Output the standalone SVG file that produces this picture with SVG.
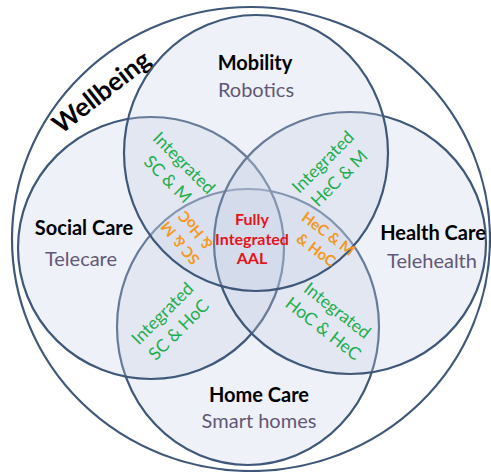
<svg xmlns="http://www.w3.org/2000/svg" width="491" height="472" viewBox="0 0 491 472">
<style>
.ring{fill:#c6d2e4;fill-opacity:0.3;stroke:#3f5879;stroke-width:2.2}
.outer{fill:#ffffff;stroke:#3f5879;stroke-width:2.2}
.t{font-family:Lato,"Liberation Sans",sans-serif;text-anchor:middle}
.main{font-weight:bold;font-size:20px;fill:#000}
.sub{font-size:20px;fill:#625777}
.green{font-size:17.5px;fill:#22ad4e}
.orange{font-size:15px;font-weight:bold;fill:#f4981f}
.red{font-size:16px;font-weight:bold;fill:#e3141c}
</style>
<rect width="491" height="472" fill="#ffffff"/>
<g id="wellbeing">
<ellipse class="outer" cx="251" cy="239" rx="239" ry="232"/>
<text class="t main" font-size="26" style="font-size:26px" transform="translate(107,99) rotate(-38)">Wellbeing</text>
</g>
<g id="home-care">
<ellipse class="ring" cx="248" cy="327" rx="131" ry="138"/>
<text class="t main" x="259" y="402">Home Care</text>
<text class="t sub" x="259" y="428">Smart homes</text>
</g>
<g id="social-care">
<ellipse class="ring" cx="151" cy="248" rx="133" ry="131"/>
<text class="t main" x="84" y="235">Social Care</text>
<text class="t sub" x="81" y="266">Telecare</text>
</g>
<g id="health-care">
<ellipse class="ring" cx="350" cy="243" rx="136" ry="131"/>
<text class="t main" x="433" y="240">Health Care</text>
<text class="t sub" x="432" y="268">Telehealth</text>
</g>
<g id="mobility">
<ellipse class="ring" cx="256" cy="153" rx="132" ry="138"/>
<text class="t main" x="255" y="70">Mobility</text>
<text class="t sub" x="256" y="97">Robotics</text>
</g>
<g id="connectors"></g>
<g id="sc-m">
<g transform="translate(175.5,171.5) rotate(45)">
<text class="t green" x="0" y="-6">Integrated</text>
<text class="t green" x="0" y="17">SC &amp; M</text>
</g>
</g>
<g id="hec-m">
<g transform="translate(331.5,170.5) rotate(-45)">
<text class="t green" x="0" y="-6">Integrated</text>
<text class="t green" x="0" y="17">HeC &amp; M</text>
</g>
</g>
<g id="sc-hoc">
<g transform="translate(171,322) rotate(-45)">
<text class="t green" x="0" y="-6">Integrated</text>
<text class="t green" x="0" y="17">SC &amp; HoC</text>
</g>
</g>
<g id="hoc-hec">
<g transform="translate(330,320) rotate(38)">
<text class="t green" x="0" y="-6">Integrated</text>
<text class="t green" x="0" y="17">HoC &amp; HeC</text>
</g>
</g>
<g id="sc-m-hoc">
<g transform="translate(188,236.5) rotate(230)">
<text class="t orange" x="0" y="-5">SC &amp; M</text>
<text class="t orange" x="0" y="15">&amp; HoC</text>
</g>
</g>
<g id="hec-m-hoc">
<g transform="translate(322,242) rotate(37)">
<text class="t orange" x="0" y="-5">HeC &amp; M</text>
<text class="t orange" x="0" y="15">&amp; HoC</text>
</g>
</g>
<g id="fully-integrated">
<text class="t red" x="252" y="225">Fully</text>
<text class="t red" x="252" y="245">Integrated</text>
<text class="t red" x="252" y="264">AAL</text>
</g>
</svg>
